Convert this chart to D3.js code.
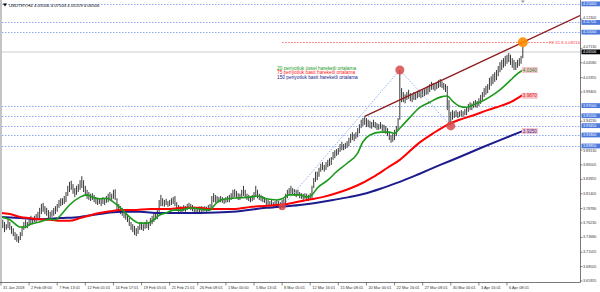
<!DOCTYPE html>
<html><head><meta charset="utf-8">
<script src="https://cdn.jsdelivr.net/npm/d3@7"></script>
<style>html,body{margin:0;padding:0;background:#fff;} svg{display:block;font-family:"Liberation Sans",Arial,sans-serif;}</style>
</head><body><svg id="c" width="600" height="292"></svg>
<script>
// ---- DATA (H4 bars) ----
const highs = [
3.771,3.768,3.764,3.760,3.768,3.764,3.757,3.753,3.746,3.743,3.739,3.746,3.757,3.764,3.768,3.764,
3.771,3.775,3.771,3.775,3.778,3.782,3.789,3.796,3.798,3.792,3.789,3.785,3.782,3.785,3.789,3.792,
3.796,3.803,3.806,3.806,3.810,3.817,3.828,3.835,3.837,3.831,3.824,3.828,3.831,3.838,3.845,3.838,
3.828,3.821,3.817,3.814,3.815,3.812,3.808,3.806,3.806,3.805,3.808,3.806,3.810,3.814,3.817,3.814,
3.821,3.822,3.806,3.796,3.792,3.789,3.785,3.782,3.778,3.771,3.764,3.760,3.757,3.753,3.757,3.764,
3.764,3.760,3.764,3.768,3.764,3.771,3.775,3.778,3.782,3.785,3.803,3.812,3.806,3.803,3.805,3.801,
3.803,3.806,3.808,3.810,3.799,3.794,3.792,3.791,3.794,3.792,3.796,3.798,3.796,3.794,3.791,3.789,
3.789,3.791,3.792,3.791,3.792,3.791,3.794,3.796,3.810,3.815,3.812,3.810,3.808,3.810,3.808,3.806,
3.808,3.810,3.812,3.815,3.821,3.822,3.819,3.815,3.814,3.821,3.828,3.821,3.814,3.812,3.810,3.812,
3.817,3.828,3.821,3.814,3.812,3.810,3.808,3.805,3.803,3.801,3.803,3.799,3.801,3.803,3.801,3.799,
3.803,3.805,3.814,3.821,3.824,3.828,3.824,3.822,3.821,3.821,3.817,3.815,3.814,3.815,3.814,3.812,
3.815,3.828,3.842,3.853,3.853,3.860,3.867,3.870,3.865,3.870,3.874,3.877,3.879,3.888,3.891,3.893,
3.895,3.902,3.906,3.902,3.904,3.907,3.913,3.920,3.923,3.920,3.923,3.930,3.937,3.945,3.948,3.951,
3.948,3.945,3.943,3.941,3.945,3.941,3.939,3.937,3.941,3.937,3.936,3.934,3.930,3.923,3.918,3.920,
3.927,3.934,3.948,4.033,4.001,3.994,3.990,3.994,3.998,3.992,3.990,3.994,3.992,3.996,3.998,3.996,
3.998,3.999,4.001,4.005,4.008,4.012,4.010,4.008,4.012,4.015,4.017,4.013,4.010,4.008,4.005,3.980,
3.959,3.962,3.960,3.962,3.959,3.960,3.962,3.960,3.964,3.966,3.973,3.976,3.974,3.978,3.980,3.978,
3.983,3.989,3.994,4.001,4.005,4.008,4.019,4.022,4.026,4.029,4.033,4.040,4.047,4.051,4.054,4.058,
4.060,4.063,4.060,4.054,4.051,4.047,4.051,4.054,4.058,4.074];
const lows = [
3.757,3.753,3.746,3.750,3.753,3.750,3.743,3.739,3.732,3.729,3.727,3.732,3.739,3.750,3.753,3.753,
3.757,3.760,3.760,3.764,3.764,3.768,3.771,3.778,3.782,3.778,3.775,3.771,3.769,3.773,3.775,3.778,
3.782,3.789,3.792,3.794,3.796,3.799,3.810,3.817,3.821,3.814,3.808,3.812,3.817,3.821,3.824,3.817,
3.810,3.805,3.803,3.801,3.803,3.799,3.796,3.794,3.796,3.792,3.796,3.794,3.798,3.799,3.803,3.801,
3.805,3.803,3.785,3.780,3.778,3.775,3.771,3.768,3.764,3.757,3.750,3.746,3.741,3.739,3.743,3.750,
3.750,3.748,3.752,3.753,3.750,3.757,3.760,3.764,3.768,3.769,3.782,3.792,3.792,3.791,3.794,3.791,
3.792,3.794,3.796,3.792,3.785,3.782,3.782,3.780,3.783,3.782,3.785,3.787,3.785,3.783,3.780,3.778,
3.778,3.780,3.782,3.782,3.783,3.782,3.783,3.785,3.789,3.799,3.798,3.798,3.798,3.799,3.798,3.796,
3.798,3.799,3.799,3.803,3.806,3.808,3.806,3.803,3.803,3.806,3.810,3.806,3.803,3.801,3.799,3.801,
3.803,3.810,3.806,3.803,3.801,3.799,3.798,3.794,3.792,3.791,3.792,3.789,3.791,3.792,3.789,3.787,
3.791,3.791,3.796,3.806,3.812,3.814,3.812,3.810,3.808,3.810,3.806,3.805,3.803,3.805,3.803,3.801,
3.803,3.806,3.824,3.835,3.838,3.844,3.853,3.856,3.853,3.856,3.861,3.863,3.865,3.874,3.877,3.881,
3.883,3.888,3.891,3.891,3.893,3.895,3.898,3.904,3.909,3.907,3.911,3.914,3.921,3.930,3.934,3.936,
3.932,3.932,3.930,3.929,3.932,3.930,3.927,3.927,3.929,3.925,3.923,3.920,3.916,3.909,3.904,3.906,
3.909,3.916,3.927,3.945,3.976,3.976,3.974,3.980,3.982,3.978,3.976,3.980,3.980,3.983,3.985,3.983,
3.985,3.987,3.989,3.990,3.994,3.998,3.998,3.996,3.999,4.001,4.003,4.001,3.998,3.994,3.962,3.937,
3.934,3.945,3.948,3.950,3.948,3.950,3.951,3.950,3.953,3.953,3.959,3.962,3.962,3.966,3.967,3.966,
3.969,3.973,3.980,3.985,3.989,3.992,3.998,4.005,4.008,4.012,4.015,4.022,4.029,4.033,4.037,4.040,
4.044,4.047,4.042,4.037,4.033,4.033,4.037,4.040,4.044,4.054];

// moving averages sampled at bar indices
const emaIdx = [0,5,11,14,16,22,28,31,34,39,45,49,52,56,60,64,68,72,75,79,83,87,90,94,98,102,108,113,119,121,125,132,142,146,151,157,160,164,170,174,177,180,186,191,197,203,206,210,216,221,224,227,233,238,244,250,254,257,261,265,270,274,278,284,290,293,297];
const emaVal = [3.773,3.768,3.755,3.755,3.759,3.764,3.769,3.768,3.776,3.794,3.808,3.812,3.808,3.805,3.806,3.799,3.789,3.776,3.768,3.762,3.762,3.768,3.776,3.780,3.785,3.785,3.789,3.787,3.785,3.792,3.803,3.806,3.808,3.810,3.805,3.803,3.805,3.812,3.812,3.808,3.812,3.824,3.838,3.853,3.868,3.886,3.906,3.918,3.923,3.923,3.921,3.930,3.950,3.966,3.976,3.985,3.987,3.978,3.969,3.967,3.973,3.978,3.985,3.998,4.015,4.024,4.033];
const sma75Idx = [0,5,11,16,22,28,34,39,45,51,56,62,68,75,85,94,104,113,119,132,143,157,163,174,183,193,203,212,220,227,238,246,254,261,269,277,282,290,297];
const sma75Val = [3.780,3.778,3.773,3.771,3.769,3.768,3.766,3.766,3.771,3.776,3.780,3.783,3.785,3.785,3.787,3.787,3.789,3.789,3.787,3.787,3.791,3.794,3.796,3.803,3.808,3.817,3.829,3.844,3.860,3.874,3.904,3.921,3.936,3.945,3.953,3.962,3.967,3.976,3.989];
const sma150Idx = [0,11,22,34,45,56,68,79,90,102,113,132,151,170,189,198,208,217,227,238,250,261,273,284,297];
const sma150Val = [3.773,3.771,3.769,3.771,3.773,3.778,3.782,3.782,3.780,3.780,3.780,3.782,3.789,3.794,3.803,3.808,3.815,3.824,3.835,3.849,3.865,3.879,3.895,3.909,3.925];
const maLabels = ["4.0340","3.9870","3.9250"];
const legendTexts = ["20 periyotluk üssel hareketli ortalama","75 periyotluk basit hareketli ortalama","150  periyotluk basit hareketli ortalama"];

// Fibonacci expansion points (bar index, price) and trend line anchors
const fiboIdx = [160, 227, 256];
const fiboPrice = [3.791, 4.033, 3.934];
const trendIdx = [207, 297];
const trendPrice = [3.951, 4.082];
const feLevel = 4.08216;
const feLabel = "FE 61.8 4.08216";

// horizontal levels and axis
const levels = [4.15, 4.1172, 4.10, 3.97, 3.952, 3.9345, 3.918, 3.8985];
const currentPrice = 4.06506;
const yTicks = [4.12305,4.07130,4.04580,4.01955,3.99405,3.94230,3.89130,3.86505,3.83955,3.81405,3.78780,3.76230,3.73680,3.71055,3.68505,3.65955];
const xTickLabels = ["31 Jan 2018","2 Feb 09:00","7 Feb 13:01","12 Feb 01:01","14 Feb 17:01","19 Feb 05:01","21 Feb 21:01","26 Feb 09:01","1 Mar 00:00","5 Mar 13:01","8 Mar 05:01","12 Mar 16:01","15 Mar 08:01","20 Mar 00:01","22 Mar 16:01","27 Mar 08:01","30 Mar 00:01","3 Apr 16:01","6 Apr 08:01"];
const barsPerTick = 16;
const titleText = "USDTRY,H4  4.05506 4.07503 4.05119 4.06506";

// ---- DRAW ----
const svg = d3.select("#c");
const plotR = 580, plotB = 282;
const x = d3.scaleLinear().domain([0, barsPerTick*(xTickLabels.length-1)]).range([1, 507]);
const y = d3.scaleLinear().domain([3.65955, 4.15]).range([281, 3.9]);
const AX_FS = 3.7, BOX_H = 4.8;

svg.append("defs").append("clipPath").attr("id","clip")
  .append("rect").attr("x",0).attr("y",0).attr("width",plotR).attr("height",plotB);
const g = svg.append("g").attr("clip-path","url(#clip)");

// left border
svg.append("rect").attr("x",0).attr("y",0).attr("width",2).attr("height",plotB).attr("fill","#c4c4c4");

// current price line
g.append("line").attr("x1",0).attr("x2",plotR).attr("y1",y(currentPrice)).attr("y2",y(currentPrice))
  .attr("stroke","#e6e6e6").attr("stroke-width",2);

// dotted levels
g.selectAll("line.lvl").data(levels).join("line").attr("class","lvl")
  .attr("x1",2).attr("x2",plotR).attr("y1",d=>Math.round(y(d))+0.5).attr("y2",d=>Math.round(y(d))+0.5)
  .attr("stroke","#8fa9ef").attr("stroke-width",1).attr("stroke-dasharray","1.5,1.5");

// FE level
g.append("line").attr("x1",x(fiboIdx[0])).attr("x2",548).attr("y1",Math.round(y(feLevel))+0.5).attr("y2",Math.round(y(feLevel))+0.5)
  .attr("stroke","#ff6e6e").attr("stroke-width",1).attr("stroke-dasharray","1.5,1.5");
g.append("text").attr("x",549).attr("y",y(feLevel)).attr("dominant-baseline","central")
  .attr("font-size",4.2).attr("fill","#ff4040").text(feLabel);

// bars
g.selectAll("line.bar").data(highs).join("line").attr("class","bar")
  .attr("x1",(d,i)=>x(i)).attr("x2",(d,i)=>x(i))
  .attr("y1",d=>y(d)).attr("y2",(d,i)=>y(lows[i]))
  .attr("stroke","#3a3a3a").attr("stroke-width",1);

// fibo lines
const fpts = fiboIdx.map((d,i)=>[x(d), y(fiboPrice[i])]);
g.append("path").attr("d", d3.line()(fpts)).attr("fill","none")
  .attr("stroke","#94aef2").attr("stroke-width",1).attr("stroke-dasharray","1.5,1.5");

// moving averages
const ln = d3.line().x(d=>x(d[0])).y(d=>y(d[1])).curve(d3.curveMonotoneX);
const mas = [
  {idx:sma150Idx, val:sma150Val, color:"#1c1c8e", w:2},
  {idx:sma75Idx, val:sma75Val, color:"#ff0000", w:2},
  {idx:emaIdx, val:emaVal, color:"#1a9a1a", w:1.6}
];
mas.forEach(m=>{
  g.append("path").attr("d", ln(m.idx.map((d,i)=>[d, m.val[i]]))).attr("fill","none")
    .attr("stroke",m.color).attr("stroke-width",m.w);
});

// trend line (ray to the right edge)
const t0=[x(trendIdx[0]), y(trendPrice[0])], t1=[x(trendIdx[1]), y(trendPrice[1])];
const slope=(t1[1]-t0[1])/(t1[0]-t0[0]);
g.append("line").attr("x1",t0[0]).attr("y1",t0[1]).attr("x2",plotR).attr("y2",t0[1]+slope*(plotR-t0[0]))
  .attr("stroke","#8e1c1c").attr("stroke-width",1.4);

// fibo circles
g.selectAll("circle.fp").data(fiboIdx).join("circle").attr("class","fp")
  .attr("cx",d=>x(d)).attr("cy",(d,i)=>y(fiboPrice[i])).attr("r",(d,i)=>i===0?3.5:4.5)
  .attr("fill","#d84a4a").attr("fill-opacity",0.85);
g.append("circle").attr("cx",x(trendIdx[1])).attr("cy",y(feLevel)).attr("r",5)
  .attr("fill","#ff8c00").attr("fill-opacity",0.9);

// MA end labels
const maEnds = [emaVal[emaVal.length-1], sma75Val[sma75Val.length-1], sma150Val[sma150Val.length-1]];
const maTextCol = ["#2f7d2f","#e02020","#2a2a90"];
maEnds.forEach((v,i)=>{
  const yy=y(v)+ (i===1?1:0);
  g.append("rect").attr("x",x(297)-1).attr("y",yy-3).attr("width",16).attr("height",6).attr("fill","#fac6cd");
  g.append("text").attr("x",x(297)).attr("y",yy).attr("dominant-baseline","central")
    .attr("font-size",4.6).attr("fill",maTextCol[i]).text(maLabels[i]);
});

// legend
const legCol = ["#1a9a1a","#ff2020","#1c1c8e"];
legendTexts.forEach((t,i)=>{
  svg.append("text").attr("x",277).attr("y",68+i*4.6).attr("dominant-baseline","central")
    .attr("font-size",4.8).attr("fill",legCol[i]).text(t);
});

// title
svg.append("path").attr("d","M3,3.5 L7,3.5 L5,6.5 Z").attr("fill","#000");
svg.append("text").attr("x",9).attr("y",5.2).attr("dominant-baseline","central")
  .attr("font-size",4.3).attr("fill","#000").text(titleText);
// shift marker
svg.append("path").attr("d",`M${x(297)-2},0.5 L${x(297)+2},0.5 L${x(297)},3 Z`).attr("fill","#999");

// axes lines
svg.append("line").attr("x1",plotR+0.5).attr("x2",plotR+0.5).attr("y1",0).attr("y2",plotB+0.5).attr("stroke","#7a7a7a");
svg.append("line").attr("x1",0).attr("x2",plotR+0.5).attr("y1",plotB+0.5).attr("y2",plotB+0.5).attr("stroke","#7a7a7a");

// y tick labels (nudged away from boxed labels so they do not collide)
const boxed = levels.concat([currentPrice]).map(v=>y(v));
yTicks.forEach(v=>{
  const yy=y(v);
  let ty=yy;
  boxed.forEach(b=>{
    const d=ty-b;
    if (Math.abs(d)<4.6) ty = b + (d<0?-4.6:4.6);
  });
  svg.append("line").attr("x1",plotR).attr("x2",plotR+2.5).attr("y1",yy).attr("y2",yy).attr("stroke","#555").attr("stroke-width",0.7);
  svg.append("text").attr("x",583).attr("y",ty).attr("dominant-baseline","central")
    .attr("font-size",AX_FS).attr("fill","#333").text(v.toFixed(5));
});
levels.forEach(v=>{
  const yy=y(v);
  svg.append("rect").attr("x",581.5).attr("y",yy-BOX_H/2).attr("width",18.5).attr("height",BOX_H).attr("fill","#4d78dc");
  svg.append("text").attr("x",583).attr("y",yy).attr("dominant-baseline","central")
    .attr("font-size",AX_FS).attr("fill","#fff").text(v.toFixed(5));
});
{
  const yy=y(currentPrice);
  svg.append("rect").attr("x",581.5).attr("y",yy-BOX_H/2).attr("width",18.5).attr("height",BOX_H).attr("fill","#000");
  svg.append("text").attr("x",583).attr("y",yy).attr("dominant-baseline","central")
    .attr("font-size",AX_FS).attr("fill","#fff").text(currentPrice.toFixed(5));
}

// x tick labels
xTickLabels.forEach((t,k)=>{
  const xx=x(k*barsPerTick);
  svg.append("line").attr("x1",xx).attr("x2",xx).attr("y1",plotB).attr("y2",plotB+3.5).attr("stroke","#555").attr("stroke-width",0.7);
  svg.append("text").attr("x",xx+2).attr("y",287.5).attr("dominant-baseline","central")
    .attr("font-size",3.9).attr("fill","#333").text(t);
});
</script></body></html>
